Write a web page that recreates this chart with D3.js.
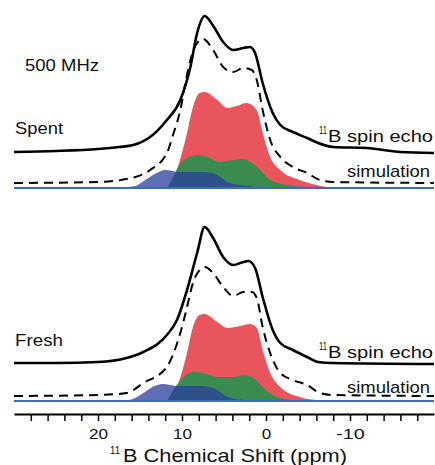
<!DOCTYPE html>
<html>
<head>
<meta charset="utf-8">
<script src="https://cdn.jsdelivr.net/npm/d3@7/dist/d3.min.js"></script>
<style>
  body { margin: 0; background: #fff; }
  svg { display: block; font-family: "Liberation Sans", Arial, sans-serif; }
</style>
</head>
<body>
<div id="chart"></div>
<script>
//Datos: [ppm, intensidad (u.a.)]
const tickValues = [28, 26, 24, 22, 20, 18, 16, 14, 12, 10, 8, 6, 4, 2, 0, -2, -4, -6, -8, -10, -12, -14, -16, -18];
const tickLabels = [20, 10, 0, -10];

const spentEcho = [[30,0],[25,1],[20,3],[17.5,5],[15.8,7],[13.8,15],[11.8,32],[10.2,52],[9.0,85],[8.2,119],[7.3,136],[6.2,125],[5.1,110],[3.9,102],[2.7,104],[1.9,105],[1.3,99],[0.4,69],[-0.8,39],[-1.7,27],[-3.2,20],[-4.9,14],[-6.2,9],[-8,5],[-12,4],[-16,0],[-20,-1]];
const spentSim = [[30,0],[20,1],[16,5],[13.8,13],[11.8,30],[11.0,50],[10.2,73],[9.6,100],[9.0,123],[8.2,140],[7.5,144],[6.3,133],[5.1,116],[3.9,111],[2.7,115],[1.7,113],[1.1,103],[0.4,73],[-0.5,43],[-1.7,26],[-3.2,16],[-4.9,10],[-6.4,3],[-8,1],[-20,0]];
const spentRed = [[12,0],[11.2,4],[10.6,18],[9.4,55],[8.7,81],[7.9,95],[7.3,96],[5.8,88],[4.6,80],[3.5,82],[2.3,85],[1.1,78],[0.4,55],[-0.5,31],[-1.7,18],[-4.0,8],[-6.0,3],[-8,0]];
const spentGreen = [[11.8,0],[11.0,12],[10.4,22],[9.4,30],[8.2,33],[7.0,31],[5.5,26],[3.9,28],[2.7,29],[1.9,26],[0.7,18],[-0.5,8],[-2.5,3],[-4.9,1],[-7,0]];
const spentBlue = [[18,0],[15.6,2],[14.2,9],[13.0,15],[12.0,18],[11.1,17],[10.6,16],[7.5,16],[5.8,13],[4.6,6],[3.1,3],[0.7,1],[-2,0]];

const freshEcho = [[30,0],[25,0],[20,1],[16.6,5],[14.6,11],[11.8,28],[10.6,43],[9.4,73],[8.2,110],[7.3,136],[6.3,125],[5.1,106],[3.9,98],[2.7,101],[2.1,102],[1.3,95],[0.4,66],[-0.8,33],[-1.7,20],[-3.2,13],[-4.9,6],[-6.2,1],[-8,0],[-20,-1]];
const freshSim = [[30,0],[20,1],[16.6,3],[14.6,13],[11.8,29],[11.0,43],[10.2,63],[9.4,89],[8.7,113],[7.9,126],[7.3,129],[6.3,123],[5.1,109],[3.9,100],[2.7,104],[1.7,104],[1.1,98],[0.4,69],[-0.5,43],[-1.7,23],[-3.2,16],[-4.9,11],[-6.4,3],[-8,1],[-20,0]];
const freshRed = [[12,0],[11.2,3],[10.6,14],[9.4,48],[8.7,74],[7.9,86],[7.3,87],[5.8,79],[4.6,73],[3.1,75],[1.9,77],[1.1,73],[0.4,51],[-0.5,28],[-1.7,14],[-4.0,4],[-6.0,1],[-8,0]];
const freshGreen = [[11.8,0],[10.8,14],[9.8,24],[8.7,29],[7.5,28],[5.8,24],[3.9,24],[2.7,26],[1.5,23],[0.4,14],[-0.8,6],[-2.9,1],[-5,0]];
const freshBlue = [[17,0],[15.6,3],[14.6,8],[13.5,14],[12.3,17],[11.4,16],[10.6,15],[7.9,15],[6.7,14],[5.8,11],[4.6,4],[2.7,1],[0,0]];

//Colores
const COLOR_RED = '#e9555d',
COLOR_GREEN = '#3a8b50',
COLOR_BLUE = '#2a3f9c',
COLOR_BASE = '#3b6cb4';

let width = 435, height = 465;

let svg = d3.select('#chart')
    .append('svg')
    .attr('width', width)
    .attr('height', height);

let x = d3.scaleLinear()
    .domain([30, -20])
    .range([14, 434]);

function drawPanel(p) {
    let y = d3.scaleLinear()
        .domain([0, 100])
        .range([p.base, p.base - 100]);

    let g = svg.append('g').attr('class', 'panel-' + p.name);

    let area = d3.area()
        .x(function(d) { return x(d[0]); })
        .y0(y(0))
        .y1(function(d) { return y(d[1]); })
        .curve(d3.curveMonotoneX);

    let line = function(off) {
        return d3.line()
            .x(function(d) { return x(d[0]); })
            .y(function(d) { return y(d[1] + off); })
            .curve(d3.curveMonotoneX);
    };

    g.append('path').datum(p.red).attr('d', area).attr('fill', COLOR_RED);
    g.append('path').datum(p.green).attr('d', area).attr('fill', COLOR_GREEN);
    g.append('path').datum(p.blue).attr('d', area).attr('fill', COLOR_BLUE).attr('fill-opacity', 0.75);

    //Línea base
    g.append('line')
        .attr('x1', x(30)).attr('x2', x(-20))
        .attr('y1', y(0)).attr('y2', y(0))
        .attr('stroke', COLOR_BASE)
        .attr('stroke-width', 2.2);

    g.append('path').datum(p.sim)
        .attr('d', line(p.simOff))
        .attr('fill', 'none')
        .attr('stroke', '#000')
        .attr('stroke-width', 2)
        .attr('stroke-dasharray', '9,6');

    g.append('path').datum(p.echo)
        .attr('d', line(p.echoOff))
        .attr('fill', 'none')
        .attr('stroke', '#000')
        .attr('stroke-width', 2.6)
        .attr('stroke-linejoin', 'round');

    //Textos
    addText(p.label, 15, p.labelY, 17, 48);
    addText('11', 319, p.echoY - 8, 10, 8);
    addText('B spin echo', 328, p.echoY, 17, 105);
    addText('simulation', 347, p.simY, 17, 83);
}

function addText(txt, tx, ty, size, len) {
    svg.append('text')
        .attr('x', tx)
        .attr('y', ty)
        .attr('font-size', size)
        .attr('fill', '#111')
        .attr('textLength', len)
        .attr('lengthAdjust', 'spacingAndGlyphs')
        .text(txt);
}

drawPanel({name: 'spent', base: 188, echoOff: 36, simOff: 5, echo: spentEcho, sim: spentSim,
    red: spentRed, green: spentGreen, blue: spentBlue, label: 'Spent', labelY: 134, echoY: 142, simY: 177});
drawPanel({name: 'fresh', base: 401, echoOff: 38, simOff: 5, echo: freshEcho, sim: freshSim,
    red: freshRed, green: freshGreen, blue: freshBlue, label: 'Fresh', labelY: 346, echoY: 358, simY: 393});

addText('500 MHz', 25, 71, 16, 74);

//Eje X
let axis = svg.append('g')
    .attr('transform', 'translate(0,414)')
    .call(d3.axisBottom(x)
        .tickValues(tickValues)
        .tickSize(7)
        .tickSizeOuter(0)
        .tickFormat(function(d) { return tickLabels.indexOf(d) > -1 ? String(d) : ''; }));

axis.select('.domain').attr('stroke', '#000').attr('stroke-width', 2);
axis.selectAll('.tick line').attr('stroke', '#000').attr('stroke-width', 1.5);
axis.selectAll('.tick text')
    .attr('y', 25)
    .attr('dy', 0)
    .attr('font-size', 14.5)
    .attr('font-family', '"Liberation Sans", Arial, sans-serif')
    .attr('fill', '#111')
    .attr('textLength', function(d) { return String(d).length * 9.5; })
    .attr('lengthAdjust', 'spacingAndGlyphs');

addText('11', 110, 454, 11, 10);
addText('B Chemical Shift (ppm)', 123, 462, 19, 224);
</script>
</body>
</html>
